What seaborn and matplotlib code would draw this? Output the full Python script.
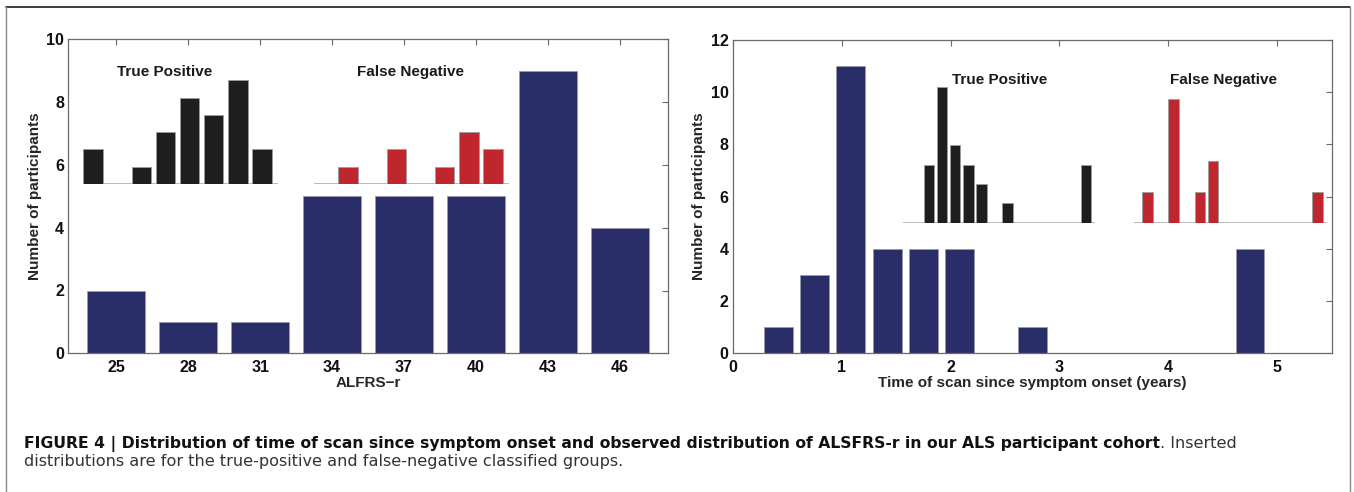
import matplotlib
matplotlib.use("Agg")
import matplotlib.pyplot as plt
import seaborn as sns
from matplotlib.lines import Line2D
from matplotlib import font_manager

# ---------------- data ----------------
alsfrs_scores = [25, 28, 31, 34, 37, 40, 43, 46]
alsfrs_counts = [2, 1, 1, 5, 5, 5, 9, 4]
alsfrs_ticks = [25, 28, 31, 34, 37, 40, 43, 46]

onset_years = [0.42, 0.75, 1.08, 1.42, 1.75, 2.08, 2.75, 4.75]
onset_counts = [1, 3, 11, 4, 4, 4, 1, 4]
onset_ticks = [0, 1, 2, 3, 4, 5]

alsfrs_inset_bins = [0, 1, 2, 3, 4, 5, 6, 7]
alsfrs_tp_counts = [2, 0, 1, 3, 5, 4, 6, 2]
alsfrs_fn_counts = [0, 1, 0, 2, 0, 1, 3, 2]

onset_inset_bins = [0, 1, 2, 3, 4, 5, 6, 7, 8, 9, 10, 11, 12, 13]
onset_tp_counts = [0, 3, 7, 4, 3, 2, 0, 1, 0, 0, 0, 0, 0, 3]
onset_fn_counts = [1, 0, 4, 0, 1, 2, 0, 0, 0, 0, 0, 0, 0, 1]

left_yticks = [0, 2, 4, 6, 8, 10]
right_yticks = [0, 2, 4, 6, 8, 10, 12]

caption_bold = ("FIGURE 4 | Distribution of time of scan since symptom onset and observed "
                "distribution of ALSFRS-r in our ALS participant cohort")
caption_reg1 = ". Inserted"
caption_reg2 = "distributions are for the true-positive and false-negative classified groups."

# ---------------- style ----------------
sns.set_style("white")
plt.rcParams["font.family"] = ["Liberation Sans", "DejaVu Sans"]
plt.rcParams["font.weight"] = "bold"
plt.rcParams["axes.unicode_minus"] = True

NAVY = "#2a2e68"
BLACK = "#1e1e1e"
RED = "#c0262d"
FRAME = "#6a6a6a"

W, H = 1354, 492
fig = plt.figure(figsize=(W / 100, H / 100), dpi=100)
fig.patch.set_facecolor("white")


def px_axes(x0, y_top, x1, y_bot):
    return [x0 / W, (H - y_bot) / H, (x1 - x0) / W, (y_bot - y_top) / H]


def style_main(ax):
    for s in ax.spines.values():
        s.set_visible(True)
        s.set_color(FRAME)
        s.set_linewidth(0.9)
    ax.tick_params(direction="in", top=True, right=True, length=4, width=0.8,
                   color=FRAME, labelsize=11.5, labelcolor="#111111")
    ax.tick_params(axis="x", pad=5)
    ax.tick_params(axis="y", pad=3)
    ax.set_facecolor("white")


# ---------------- left panel ----------------
axL = fig.add_axes(px_axes(68.3, 39.3, 667.7, 353.3))
sns.barplot(x=alsfrs_scores, y=alsfrs_counts, native_scale=True, orient="x",
            color=NAVY, saturation=1, width=0.8, errorbar=None,
            edgecolor="#9a9aa8", linewidth=0.5, ax=axL)
axL.set_xlim(23, 48)
axL.set_ylim(0, 10)
axL.set_xticks(alsfrs_ticks)
axL.set_xticklabels([str(t) for t in alsfrs_ticks])
axL.set_yticks(left_yticks)
axL.set_yticklabels([str(t) for t in left_yticks])
style_main(axL)
axL.set_xlabel("ALFRS\u2212r", fontsize=11, fontweight="bold", va="center")
axL.xaxis.set_label_coords(0.5, (353.3 - 383) / 314.0)
axL.set_ylabel("Number of participants", fontsize=11, fontweight="bold", va="center")
axL.yaxis.set_label_coords((35.5 - 68.3) / 599.4, 0.5)

# ---------------- right panel ----------------
axR = fig.add_axes(px_axes(732.7, 40.0, 1331.7, 353.3))
sns.barplot(x=onset_years, y=onset_counts, native_scale=True, orient="x",
            color=NAVY, saturation=1, width=0.8, errorbar=None,
            edgecolor="#9a9aa8", linewidth=0.5, ax=axR)
axR.set_xlim(0, 5.5)
axR.set_ylim(0, 12)
axR.set_xticks(onset_ticks)
axR.set_xticklabels([str(t) for t in onset_ticks])
axR.set_yticks(right_yticks)
axR.set_yticklabels([str(t) for t in right_yticks])
style_main(axR)
axR.set_xlabel("Time of scan since symptom onset (years)", fontsize=11,
               fontweight="bold", va="center")
axR.xaxis.set_label_coords(0.5, (353.3 - 383) / 313.3)
axR.set_ylabel("Number of participants", fontsize=11, fontweight="bold", va="center")
axR.yaxis.set_label_coords((699.4 - 732.7) / 599.0, 0.5)


# ---------------- insets ----------------
def inset(x0, width_px, base_y, height_px, bins, counts, color, xlim, ylim):
    ax = fig.add_axes(px_axes(x0, base_y - height_px, x0 + width_px, base_y))
    ax.axhline(0, color="#b4b4b4", lw=1.3, zorder=0)
    sns.barplot(x=bins, y=counts, native_scale=True, orient="x", color=color,
                saturation=1, width=0.8, errorbar=None, edgecolor="#9c9c9c",
                linewidth=0.6, ax=ax, zorder=2)
    ax.set_xlim(*xlim)
    ax.set_ylim(*ylim)
    ax.axis("off")
    ax.patch.set_alpha(0)
    return ax


u_l = 24.15
inset(93 - 0.4 * u_l, 8.05 * u_l, 184.0, 7 * 17.3, alsfrs_inset_bins,
      alsfrs_tp_counts, BLACK, (-0.4, 7.65), (0, 7))
inset(324 - 0.4 * u_l, 8.05 * u_l, 184.0, 7 * 17.3, alsfrs_inset_bins,
      alsfrs_fn_counts, RED, (-0.4, 7.65), (0, 7))
u_r = 13.07
inset(916 - 1.0 * u_r, 14.7 * u_r, 222.7, 8 * 19.35, onset_inset_bins,
      onset_tp_counts, BLACK, (-1.0, 13.7), (0, 8))
inset(1147.5 - 1.0 * u_r, 14.7 * u_r, 222.7, 5 * 30.9, onset_inset_bins,
      onset_fn_counts, RED, (-1.0, 13.7), (0, 5))


def ftext(x, y, s, **kw):
    return fig.text(x / W, (H - y) / H, s, **kw)


for (x, y, s) in [(165, 72, "True Positive"), (410.5, 72, "False Negative"),
                  (999.5, 80, "True Positive"), (1223, 80, "False Negative")]:
    ftext(x, y, s, ha="center", va="center", fontsize=11, fontweight="bold",
          color="#1a1a1a")

# ---------------- frame around figure ----------------
fig.add_artist(Line2D([6 / W, 1350 / W], [(H - 7) / H, (H - 7) / H],
                      transform=fig.transFigure, color="#1a1a1a", lw=1.2))
for xx in (6, 1350):
    fig.add_artist(Line2D([xx / W, xx / W], [(H - 7) / H, 0],
                          transform=fig.transFigure, color="#8a8a8a", lw=1.0))

# ---------------- caption ----------------
cap_font = ["DejaVu Sans"]
renderer = fig.canvas.get_renderer()

t2 = ftext(24, 466, caption_reg2, ha="left", va="baseline", fontsize=10,
           fontweight="normal", family=cap_font, color="#333333")
w2 = t2.get_window_extent(renderer).width
s_reg = 10 * (622 - 24) / w2
t2.set_fontsize(s_reg)

tr = ftext(0, 448, caption_reg1, ha="left", va="baseline", fontsize=s_reg,
           fontweight="normal", family=cap_font, color="#333333")
wr = tr.get_window_extent(renderer).width

tb = ftext(24, 448, caption_bold, ha="left", va="baseline", fontsize=10,
           fontweight="bold", family=cap_font, color="#111111")
wb = tb.get_window_extent(renderer).width
s_bold = 10 * (1242 - 24 - wr) / wb
tb.set_fontsize(s_bold)
wb = tb.get_window_extent(renderer).width
tr.set_position(((24 + wb) / W, (H - 448) / H))

fig.savefig("out.png", dpi=100, facecolor="white")
